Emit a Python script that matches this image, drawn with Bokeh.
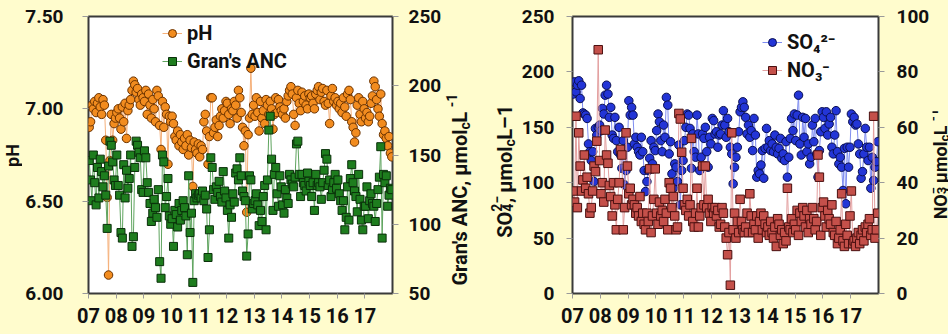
import math
from bokeh.plotting import figure
from bokeh.models import (Range1d, LinearAxis, FixedTicker, Label, Legend, LegendItem,
                          ColumnDataSource, PrintfTickFormatter)
from bokeh.layouts import row
from bokeh.embed import file_html
from bokeh.resources import INLINE

# ---------------- data (approx. 20 samples per year, 2007-2017) ----------------
years = list(range(2007, 2018))
year_labels = ["07", "08", "09", "10", "11", "12", "13", "14", "15", "16", "17"]

ph = [
    6.90, 6.93, 7.02, 7.00, 7.04, 6.98, 7.03, 7.06, 7.01, 6.97, 7.05, 7.02, 6.83, 6.52, 6.10, 6.72, 6.97, 6.83, 6.92, 6.95,
    6.98, 7.00, 6.95, 6.89, 7.01, 6.93, 7.03, 6.84, 6.99, 7.02, 7.05, 7.10, 7.15, 7.13, 7.09, 7.11, 7.05, 7.02, 7.08, 7.06,
    7.04, 7.10, 6.97, 7.08, 7.02, 6.95, 7.05, 7.00, 6.93, 7.10, 7.07, 6.91, 6.78, 7.04, 6.90, 7.01, 6.97, 6.70, 6.96, 6.93,
    6.96, 6.92, 6.85, 6.83, 6.88, 6.80, 6.86, 6.82, 6.78, 6.84, 6.80, 6.86, 6.75, 6.83, 6.79, 6.58, 6.82, 6.78, 6.76, 6.81,
    6.74, 6.80, 6.78, 6.93, 6.97, 6.88, 6.70, 6.85, 7.06, 7.06, 6.87, 6.90, 6.94, 6.85, 6.91, 6.96, 7.00, 6.95, 6.99, 7.04,
    7.03, 6.97, 6.92, 7.00, 6.99, 7.04, 7.02, 6.95, 7.10, 7.06, 6.98, 6.90, 6.80, 6.88, 6.44, 6.86, 6.95, 7.22, 6.97, 7.02,
    6.96, 7.06, 6.98, 6.88, 7.04, 6.95, 6.99, 6.92, 7.05, 7.02, 6.97, 7.04, 7.00, 6.89, 6.97, 7.06, 6.98, 7.05, 7.01, 6.99,
    6.97, 7.00, 6.95, 7.04, 7.07, 7.10, 7.12, 7.08, 6.97, 6.91, 7.06, 7.10, 7.03, 6.99, 7.09, 7.04, 7.07, 7.02, 7.00, 7.08,
    7.06, 7.07, 7.03, 7.00, 7.08, 7.10, 7.12, 7.05, 7.09, 7.11, 7.04, 7.02, 7.10, 7.03, 6.92, 7.07, 7.11, 7.04, 7.06, 7.02,
    7.04, 7.00, 7.03, 6.98, 7.06, 7.01, 6.96, 7.08, 7.10, 7.05, 6.93, 6.90, 6.82, 6.87, 7.02, 7.06, 6.97, 6.93, 7.04, 7.00,
    6.95, 6.98, 6.93, 6.96, 7.03, 7.07, 7.15, 7.12, 7.05, 7.00, 6.96, 7.08, 6.92, 6.86, 6.88, 6.84, 6.80, 6.85, 6.76, 6.74,
]

anc = [
    146, 132, 117, 150, 130, 114, 141, 119, 147, 138, 127, 135, 121, 97, 142, 160, 157, 145, 132, 128,
    150, 128, 121, 94, 90, 143, 119, 139, 126, 133, 150, 84, 91, 141, 160, 157, 152, 148, 125, 123,
    153, 148, 130, 123, 115, 102, 108, 118, 112, 105, 125, 73, 61, 150, 145, 112, 120, 133, 106, 100,
    104, 84, 110, 107, 98, 115, 103, 110, 117, 112, 106, 78, 135, 94, 108, 58, 117, 122, 119, 121,
    122, 119, 124, 117, 121, 111, 76, 96, 148, 141, 125, 118, 127, 123, 131, 120, 116, 138, 124, 119,
    110, 90, 114, 105, 122, 116, 137, 140, 132, 148, 135, 124, 120, 117, 77, 93, 135, 132, 111, 115,
    117, 122, 114, 99, 110, 102, 120, 128, 96, 132, 168, 178, 147, 110, 136, 141, 122, 113, 135, 127,
    114, 108, 125, 119, 115, 136, 132, 129, 127, 134, 158, 160, 136, 120, 136, 130, 128, 124, 137, 131,
    128, 120, 130, 110, 136, 128, 130, 127, 118, 130, 139, 151, 147, 128, 132, 120, 125, 130, 136, 126,
    132, 122, 117, 110, 117, 96, 105, 127, 103, 133, 143, 130, 124, 120, 109, 136, 118, 103, 96, 113,
    113, 127, 104, 117, 122, 115, 113, 102, 115, 125, 134, 156, 90, 136, 130, 135, 113, 121, 126, 125,
]

so4 = [
    180, 191, 182, 188, 192, 176, 188, 163, 162, 161, 158, 135, 128, 120, 128, 101, 149, 143, 150, 152,
    147, 167, 162, 179, 188, 180, 159, 168, 143, 140, 159, 138, 128, 150, 125, 113, 138, 98, 111, 132,
    174, 161, 168, 161, 135, 141, 132, 128, 125, 141, 128, 111, 92, 101, 111, 122, 138, 117, 132, 129,
    147, 162, 155, 138, 128, 152, 141, 177, 170, 126, 137, 108, 95, 117, 114, 101, 134, 80, 111, 120,
    138, 150, 162, 161, 149, 113, 144, 128, 123, 161, 144, 111, 123, 144, 140, 150, 128, 114, 141, 135,
    158, 156, 144, 146, 132, 143, 144, 152, 165, 152, 141, 158, 146, 132, 126, 99, 114, 123, 132, 146,
    164, 168, 173, 168, 159, 144, 152, 141, 147, 129, 158, 143, 105, 111, 108, 116, 129, 104, 131, 149,
    132, 138, 129, 135, 128, 143, 132, 126, 131, 140, 122, 126, 120, 137, 105, 123, 140, 158, 147, 162,
    138, 161, 179, 135, 125, 159, 141, 158, 128, 135, 117, 123, 152, 137, 158, 126, 105, 129, 146, 164,
    159, 149, 164, 143, 153, 159, 132, 126, 143, 165, 128, 117, 123, 114, 93, 131, 81, 132, 114, 132,
    162, 155, 159, 152, 153, 135, 126, 104, 110, 126, 149, 132, 120, 132, 95, 123, 102, 114, 119, 137,
]

no3 = [
    37, 33, 64, 31, 58, 46, 37, 41, 50, 38, 42, 36, 29, 31, 37, 46, 44, 55, 88, 48,
    36, 40, 33, 59, 50, 47, 39, 35, 28, 40, 32, 23, 34, 40, 52, 50, 23, 31, 58, 46,
    36, 38, 32, 34, 32, 29, 31, 28, 35, 26, 29, 25, 23, 29, 26, 45, 22, 28, 34, 45,
    29, 25, 33, 28, 30, 26, 34, 29, 23, 40, 38, 31, 35, 28, 23, 24, 65, 63, 51, 38,
    32, 30, 34, 28, 32, 56, 26, 24, 29, 38, 24, 28, 31, 46, 32, 46, 31, 34, 29, 26,
    31, 29, 31, 28, 30, 24, 25, 31, 29, 24, 20, 14, 22, 3, 58, 23, 29, 20, 26, 22,
    34, 26, 23, 22, 24, 29, 22, 36, 28, 22, 25, 23, 28, 20, 26, 29, 23, 28, 25, 22,
    24, 21, 26, 22, 20, 24, 17, 27, 25, 21, 23, 18, 22, 19, 38, 24, 23, 27, 22, 25,
    23, 30, 21, 29, 26, 31, 28, 24, 30, 22, 27, 25, 31, 27, 23, 26, 50, 42, 21, 31,
    33, 28, 24, 30, 27, 25, 32, 22, 21, 26, 18, 20, 23, 36, 19, 17, 25, 21, 18, 28,
    37, 18, 19, 17, 20, 22, 18, 21, 23, 19, 24, 22, 25, 27, 21, 23, 64, 20, 23, 29,
]

per_year = 20
dates = [y + (i + 0.5) / per_year for y in years for i in range(per_year)]
assert len(ph) == len(anc) == len(so4) == len(no3) == len(dates)

# ---------------- styling ----------------
BG = "#FFFCCD"
FONT = "'Liberation Sans Narrow', 'Arial Narrow', Roboto, sans-serif"
TXT = "#111111"
TICK = "#9a9a9a"
H = 334   # Bokeh's page template has no body margin, so the layout fills the window

# Arial-Bold-like widths (per 1000 em), scaled for the narrow face actually rendered
CW = {'G': 778, 'r': 389, 'a': 556, 'n': 611, "'": 238, 's': 556, ' ': 278, 'A': 722, 'N': 722,
      'C': 722, ',': 278, 'μ': 611, 'm': 889, 'o': 611, 'l': 278, 'c': 556, 'L': 611, '-': 333,
      '1': 556, 'S': 667, 'O': 778, '4': 556, '2': 556, '−': 584, '3': 556, '–': 556,
      'p': 611, 'H': 722}


def tw(s, size):
    return sum(CW.get(ch, 556) for ch in s) * 0.87 * size / 1000.0


def style_axis(ax, size="19px", standoff=12, tick_out=6):
    ax.major_label_text_font = FONT
    ax.major_label_text_font_size = size
    ax.major_label_text_font_style = "bold"
    ax.major_label_text_color = TXT
    ax.major_label_standoff = standoff
    ax.axis_line_color = None
    ax.major_tick_line_color = TICK
    ax.major_tick_line_width = 1
    ax.major_tick_out = tick_out
    ax.major_tick_in = 0
    ax.minor_tick_line_color = None


def make_fig(width, ml, mr, mt, mb, yl, yr, lticks, rticks, lfmt, l_standoff, r_standoff):
    p = figure(width=width, height=H, x_range=Range1d(2007, 2018), y_range=Range1d(*yl),
               output_backend="svg", toolbar_location=None,
               min_border_left=ml, min_border_right=mr, min_border_top=mt, min_border_bottom=mb,
               background_fill_color="white", border_fill_color=BG)
    p.extra_y_ranges = {"r": Range1d(*yr)}
    raxis = LinearAxis(y_range_name="r")
    p.add_layout(raxis, "right")
    p.grid.visible = False
    p.outline_line_color = "#3a3a3a"
    p.outline_line_width = 2
    xa = p.xaxis[0]
    xa.ticker = FixedTicker(ticks=years)
    xa.major_label_overrides = {y: lab for y, lab in zip(years, year_labels)}
    style_axis(xa, size="20px", standoff=9, tick_out=5)
    la = p.yaxis[0]
    la.ticker = FixedTicker(ticks=lticks)
    if lfmt:
        la.formatter = PrintfTickFormatter(format=lfmt)
    style_axis(la, standoff=l_standoff)
    raxis.ticker = FixedTicker(ticks=rticks)
    style_axis(raxis, standoff=r_standoff)
    return p


def label_fig(width):
    """A strip with no axes, used for the rotated axis titles."""
    f = figure(width=width, height=H, x_range=Range1d(0, width), y_range=Range1d(H, 0),
               output_backend="svg", toolbar_location=None, x_axis_location=None,
               y_axis_location=None, min_border_left=0, min_border_right=0,
               min_border_top=0, min_border_bottom=0,
               background_fill_color=BG, border_fill_color=BG, outline_line_color=None)
    f.grid.visible = False
    return f


def put(f, B, y, text, size, shift=0, align="left"):
    """Bottom-to-top text; B = baseline x (canvas px), y = start (left) or end (right)."""
    f.add_layout(Label(x=B + shift - 0.85 * size, y=y, x_units="canvas", y_units="canvas",
                       text=text, angle=math.pi / 2, text_align=align, text_baseline="top",
                       text_font=FONT, text_font_size=f"{size}px", text_font_style="bold",
                       text_color=TXT))


def make_legend(p, items, loc):
    leg = Legend(items=items, location=loc, background_fill_alpha=0, border_line_color=None,
                 label_text_font=FONT, label_text_font_size="20px", label_text_font_style="bold",
                 label_text_color=TXT, glyph_width=20, glyph_height=20, spacing=4,
                 padding=0, margin=0, label_standoff=5)
    p.add_layout(leg)


# ---------------- left panel: pH and Gran's ANC ----------------
p1 = make_fig(422, 56, 49, 15, 40, (6.0, 7.5), (50, 250), [6.0, 6.5, 7.0, 7.5],
              [50, 100, 150, 200, 250], "%.2f", 19, 10)
src1 = ColumnDataSource(dict(x=dates, ph=ph, anc=anc))
l_ph = p1.line("x", "ph", source=src1, line_color="#F5B07A", line_width=1)
s_ph = p1.scatter("x", "ph", source=src1, marker="circle", size=8.5, fill_color="#F28C1F",
                  line_color="#6A3200", line_width=1)
l_anc = p1.line("x", "anc", source=src1, y_range_name="r", line_color="#5FA45F", line_width=1)
s_anc = p1.scatter("x", "anc", source=src1, y_range_name="r", marker="square", size=8,
                   fill_color="#1E7D1E", line_color="#0A300A", line_width=1)
make_legend(p1, [LegendItem(label="pH", renderers=[l_ph, s_ph]),
                 LegendItem(label="Gran's ANC", renderers=[l_anc, s_anc])], (74, 220))

# ---------------- right panel: SO4 and NO3 ----------------
p2 = make_fig(414, 48, 49, 16, 41, (0, 250), (0, 100), [0, 50, 100, 150, 200, 250],
              [0, 20, 40, 60, 80, 100], None, 12, 12)
src2 = ColumnDataSource(dict(x=dates, so4=so4, no3=no3))
l_so4 = p2.line("x", "so4", source=src2, line_color="#7F8DF0", line_width=1)
s_so4 = p2.scatter("x", "so4", source=src2, marker="circle", size=8.5, fill_color="#2335D6",
                   line_color="#0A0F50", line_width=1)
l_no3 = p2.line("x", "no3", source=src2, y_range_name="r", line_color="#E3A0A0", line_width=1)
s_no3 = p2.scatter("x", "no3", source=src2, y_range_name="r", marker="square", size=8.5,
                   fill_color="#C4504A", line_color="#4A1010", line_width=1)
make_legend(p2, [LegendItem(label="SO₄²⁻", renderers=[l_so4, s_so4]),
                 LegendItem(label="NO₃⁻", renderers=[l_no3, s_no3])], (190, 211))

# ---------------- axis titles (rotated, bottom-to-top) ----------------
# "pH"
labA = label_fig(22)
put(labA, 16.5, 155, "pH", 18, align="center")

# "Gran's ANC, μmol_c L^-1": head ends at junction P, tail starts there
labB = label_fig(30)
B, P = 20, 129
put(labB, B, P, "Gran's ANC, μmol", 20, align="right")
y = P
put(labB, B, y, "c", 14, 4); y -= tw("c", 14)
put(labB, B, y, " L", 20); y -= tw(" L", 20)
put(labB, B, y, "-1", 14, -7)

# "SO4^2-, μmol_c L–1"
labC = label_fig(44)
B, P = 35.5, 146
put(labC, B, P, ", μmol", 20, align="right")
g = P + tw(", μmol", 20) + max(tw("4", 14), tw("2−", 14))
put(labC, B, g, "4", 14, 4)
put(labC, B, g, "2−", 14, -7)
put(labC, B, g, "SO", 20, align="right")
y = P
put(labC, B, y, "c", 14, 4); y -= tw("c", 14)
put(labC, B, y, " L–1", 20)

# "NO3^-, μmol_c L^-1"
labD = label_fig(16)
B, P = 13, 141
put(labD, B, P, ", μmol", 18, align="right")
g = P + tw(", μmol", 18) + max(tw("3", 13), tw("−", 13))
put(labD, B, g, "3", 13, 3)
put(labD, B, g, "−", 13, -5)
put(labD, B, g, "NO", 18, align="right")
y = P
put(labD, B, y, "c", 13, 3); y -= tw("c", 13)
put(labD, B, y, " L", 18); y -= tw(" L", 18)
put(labD, B, y, "-1", 13, -5)

layout = row(labA, p1, labB, labC, p2, labD, spacing=0)
html = file_html(layout, INLINE, title="pH, ANC, sulfate and nitrate")
html = html.replace("</head>", "<style>html,body{background:%s;}</style></head>" % BG, 1)
open("out.html", "w").write(html)
